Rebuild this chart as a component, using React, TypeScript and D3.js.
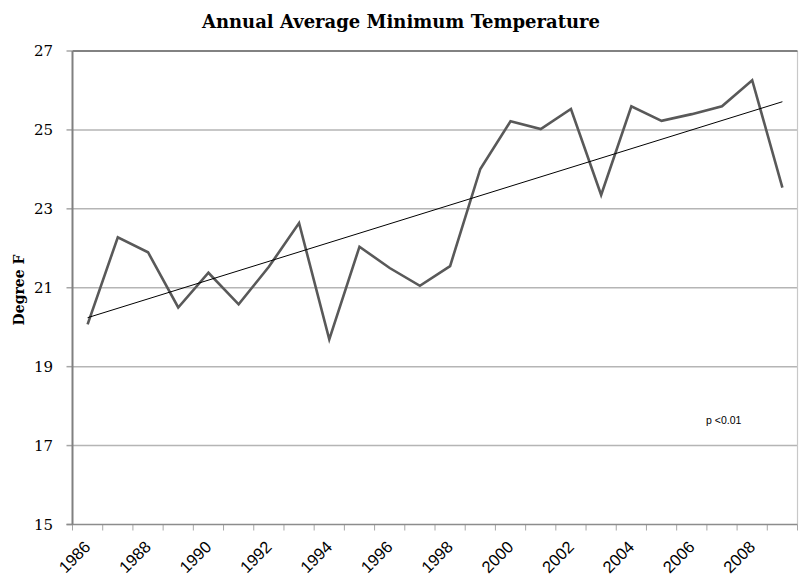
import React from 'react';
import * as d3 from 'd3';

const years = [1986, 1987, 1988, 1989, 1990, 1991, 1992, 1993, 1994, 1995, 1996, 1997,
  1998, 1999, 2000, 2001, 2002, 2003, 2004, 2005, 2006, 2007, 2008, 2009];
const minTemp = [20.07, 22.28, 21.9, 20.5, 21.38, 20.58, 21.53, 22.64, 19.69, 22.04, 21.5, 21.05,
  21.55, 24.01, 25.22, 25.02, 25.53, 23.35, 25.6, 25.23, 25.4, 25.6, 26.26, 23.54];
const yTicks = [15, 17, 19, 21, 23, 25, 27];
const xLabelYears = [1986, 1988, 1990, 1992, 1994, 1996, 1998, 2000, 2002, 2004, 2006, 2008];

const W = 799;
const H = 578;
const left = 72.5;
const right = 797.5;
const top = 51;
const bottom = 524.5;

export default function App() {
  const x = d3.scaleBand<number>().domain(years).range([left, right]).padding(0);
  const y = d3.scaleLinear().domain([15, 27]).range([bottom, top]);
  const cx = (yr: number) => (x(yr) as number) + x.bandwidth() / 2;

  const line = d3.line<number>()
    .x((_, i) => cx(years[i]))
    .y((d) => y(d));

  // least squares trend on the year index, like the spreadsheet trendline
  const idx = minTemp.map((_, i) => i);
  const mx = d3.mean(idx) as number;
  const my = d3.mean(minTemp) as number;
  const slope = d3.sum(idx, (i) => (i - mx) * (minTemp[i] - my)) / d3.sum(idx, (i) => (i - mx) ** 2);
  const icpt = my - slope * mx;
  const trend = [0, years.length - 1].map((i) => [cx(years[i]), y(icpt + slope * i)] as [number, number]);

  const bounds = years.map((yr) => x(yr) as number).concat([right]);

  return (
    <svg width={W} height={H} style={{ position: 'absolute', left: 0, top: 0, background: '#fff' }}>
      <text x={401} y={28} textAnchor="middle" fontFamily="DejaVu Serif" fontWeight="bold" fontSize={18}>
        Annual Average Minimum Temperature
      </text>

      {yTicks.map((t) => (
        <g key={t}>
          {t > 15 && t < 27 && (
            <line x1={left} x2={right} y1={y(t)} y2={y(t)} stroke="#b5b5b5" strokeWidth={1.5} />
          )}
          <line x1={66.5} x2={left} y1={y(t)} y2={y(t)} stroke="#a6a6a6" strokeWidth={1.5} />
          <text x={53} y={y(t)} dy="0.36em" textAnchor="end" fontFamily="DejaVu Serif" fontSize={15} fill="#000">
            {t}
          </text>
        </g>
      ))}

      <line x1={right} x2={right} y1={top} y2={bottom} stroke="#c8c8c8" strokeWidth={1.2} />
      <line x1={left} x2={right} y1={top} y2={top} stroke="#595959" strokeWidth={1.5} />

      {bounds.map((b, i) => (
        <line key={i} x1={b} x2={b} y1={bottom} y2={530.5} stroke="#a6a6a6" strokeWidth={1} />
      ))}
      <line x1={left - 6} x2={right} y1={bottom} y2={bottom} stroke="#8c8c8c" strokeWidth={1.5} />
      <line x1={left} x2={left} y1={top} y2={bottom} stroke="#808080" strokeWidth={2} />

      {xLabelYears.map((yr) => (
        <text key={yr} transform={`translate(${cx(yr) + 4},548) rotate(-45)`} textAnchor="end"
          fontFamily="Liberation Sans" fontSize={16.5} fill="#000">
          {yr}
        </text>
      ))}

      <text transform="translate(24,290) rotate(-90)" textAnchor="middle" fontFamily="DejaVu Serif"
        fontWeight="bold" fontSize={14}>
        Degree F
      </text>

      <path d={line(minTemp) ?? ''} fill="none" stroke="#595959" strokeWidth={2.6} strokeLinejoin="miter" />
      <line x1={trend[0][0]} y1={trend[0][1]} x2={trend[1][0]} y2={trend[1][1]} stroke="#000" strokeWidth={1} />

      <text x={706} y={424} fontFamily="Liberation Sans" fontSize={10.5} fill="#000">p &lt;0.01</text>
    </svg>
  );
}
